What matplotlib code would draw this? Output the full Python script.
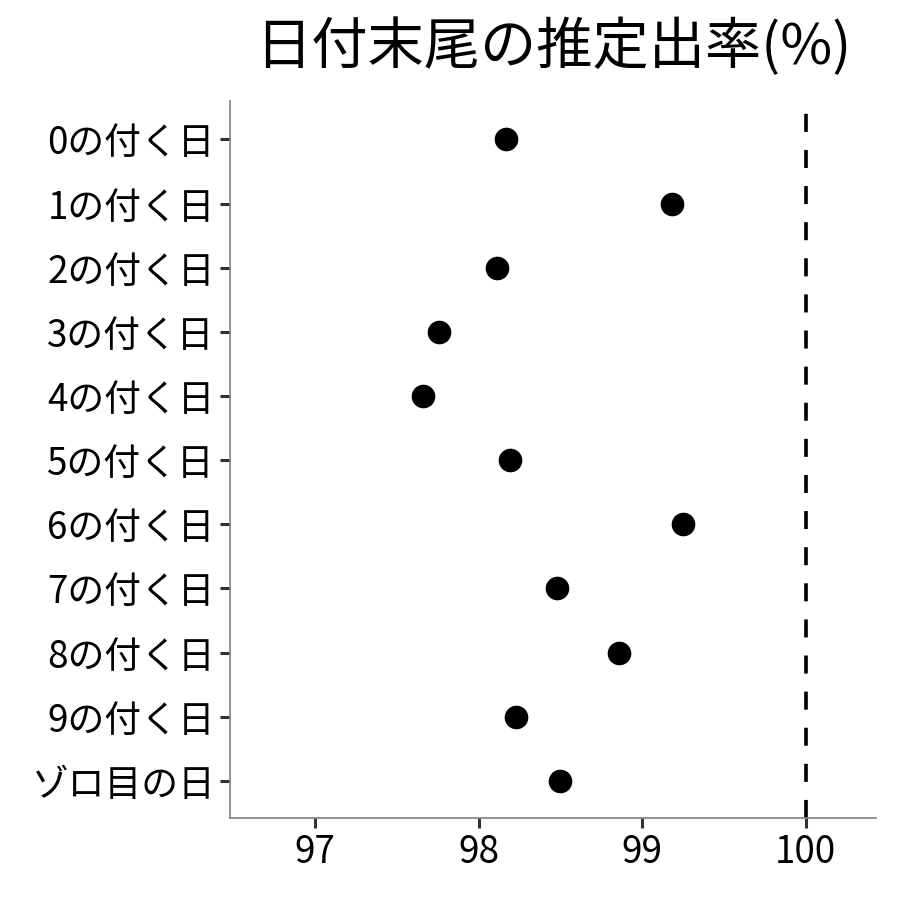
import matplotlib
matplotlib.use('Agg')
import matplotlib.pyplot as plt

plt.rcParams['font.family'] = ['Noto Sans CJK JP', 'DejaVu Sans']

# Data
labels = ['0の付く日', '1の付く日', '2の付く日', '3の付く日', '4の付く日',
          '5の付く日', '6の付く日', '7の付く日', '8の付く日', '9の付く日', 'ゾロ目の日']
rates = [98.17, 99.18, 98.11, 97.76, 97.66, 98.19, 99.25, 98.48, 98.86, 98.23, 98.50]
xticks = [97, 98, 99, 100]
ref_line = 100

fig = plt.figure(figsize=(9, 9), dpi=100)
ax = fig.add_axes([0.2556, 0.0911, 0.7177, 0.7967])

ypos = list(range(len(labels)))
ax.plot(rates, ypos, 'o', color='black', markersize=16, linestyle='none', zorder=3)
ax.axvline(ref_line, color='black', linewidth=2.6, linestyle=(0, (5, 5)))

ax.set_yticks(ypos)
ax.set_yticklabels(labels)
ax.set_ylim(len(labels) - 0.42, -0.6)
ax.set_xticks(xticks)
ax.set_xlim(96.48, 100.43)

for side in ['top', 'right']:
    ax.spines[side].set_visible(False)
for side in ['left', 'bottom']:
    ax.spines[side].set_color('#7f7f7f')
    ax.spines[side].set_linewidth(1.2)
ax.tick_params(axis='both', length=7, width=2.2, color='#333333',
               labelsize=26.5, labelcolor='black', pad=4)

fig.text(0.615, 0.947, '日付末尾の推定出率(%)', ha='center', va='center', fontsize=40.5)

fig.savefig('out.png', dpi=100)
